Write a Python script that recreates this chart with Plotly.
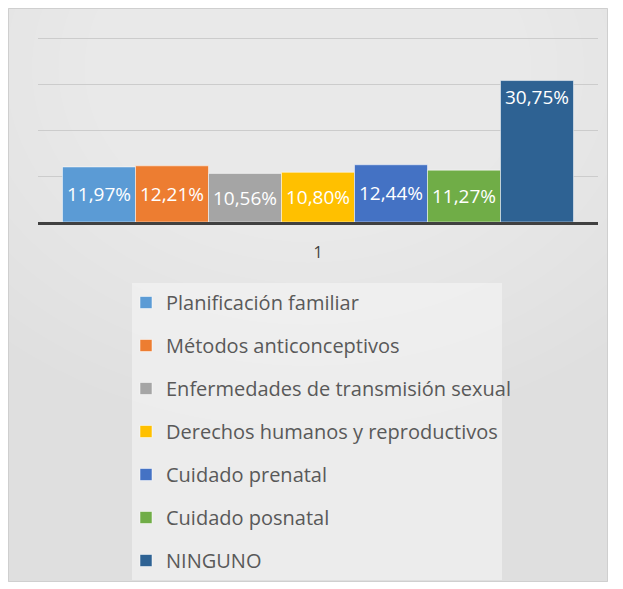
import plotly.graph_objects as go

categories = ["1"]
series_names = [
    "Planificación familiar",
    "Métodos anticonceptivos",
    "Enfermedades de transmisión sexual",
    "Derechos humanos y reproductivos",
    "Cuidado prenatal",
    "Cuidado posnatal",
    "NINGUNO",
]
series_values = [11.97, 12.21, 10.56, 10.80, 12.44, 11.27, 30.75]
series_labels = ["11,97%", "12,21%", "10,56%", "10,80%", "12,44%", "11,27%", "30,75%"]
colors = ["#5B9BD5", "#ED7D31", "#A5A5A5", "#FFC000", "#4472C4", "#70AD47", "#2E6293"]

fig = go.Figure()
for i, (name, val, lab, col) in enumerate(zip(series_names, series_values, series_labels, colors)):
    fig.add_trace(go.Bar(
        x=categories, y=[val], name=name,
        marker=dict(color=col, line=dict(color="rgba(255,255,255,0.5)", width=1)),
        text=[lab], texttemplate="%{text}",
        textposition="inside",
        insidetextanchor="end" if val > 20 else "middle",
        textfont=dict(color="white", size=19, family="Open Sans"),
        legendgroup="g%d" % i,
        hoverinfo="skip",
    ))

W, H = 600, 574
L, R, T, B = 30, 10, 27, 360
pw, ph = W - L - R, H - T - B
y_top = ph / 4.6

def px_x(x):
    return (x - L) / pw

def px_y(y):
    return (H - B - y) / ph

shapes = []
# soft radial background (white glow centred near the top)
n = 16
for k in range(n):
    f = 1 - k / n
    rx, ry = 420 * f + 40, 330 * f + 30
    cx, cy = 300, 60
    shapes.append(dict(type="circle", xref="paper", yref="paper",
                       x0=px_x(cx - rx), x1=px_x(cx + rx),
                       y0=px_y(cy + ry), y1=px_y(cy - ry),
                       fillcolor="rgba(255,255,255,0.045)", line=dict(width=0), layer="below"))
# legend box
shapes.append(dict(type="rect", xref="paper", yref="paper",
                   x0=px_x(124), x1=px_x(494), y0=px_y(572), y1=px_y(275),
                   fillcolor="rgba(245,245,245,0.6)", line=dict(width=0), layer="below"))
# outer frame
shapes.append(dict(type="rect", xref="paper", yref="paper",
                   x0=px_x(0.5), x1=px_x(W - 0.5), y0=px_y(H - 0.5), y1=px_y(0.5),
                   fillcolor="rgba(0,0,0,0)", line=dict(color="#cfcfcf", width=1), layer="below"))

fig.update_layout(
    width=W, height=H,
    margin=dict(l=L, r=R, t=T, b=B, autoexpand=False),
    paper_bgcolor="#dfdfdf",
    plot_bgcolor="rgba(0,0,0,0)",
    barmode="group",
    bargap=0.0875,
    bargroupgap=0,
    uniformtext=dict(minsize=19, mode="show"),
    showlegend=True,
    legend=dict(
        x=px_x(118), y=px_y(275), xanchor="left", yanchor="top",
        bgcolor="rgba(0,0,0,0)",
        font=dict(family="Open Sans", size=20, color="#595959"),
        tracegroupgap=14,
        itemwidth=30,
        maxheight=700,
    ),
    xaxis=dict(
        showline=True, linecolor="#404040", linewidth=3,
        showgrid=False, ticks="", ticklabelstandoff=14,
        tickfont=dict(family="Open Sans", size=16, color="#404040"),
    ),
    yaxis=dict(
        range=[0, y_top], dtick=10, showticklabels=False,
        gridcolor="#cccccc", gridwidth=1, zeroline=False,
    ),
    shapes=shapes,
)

fig.write_html("out.html")
